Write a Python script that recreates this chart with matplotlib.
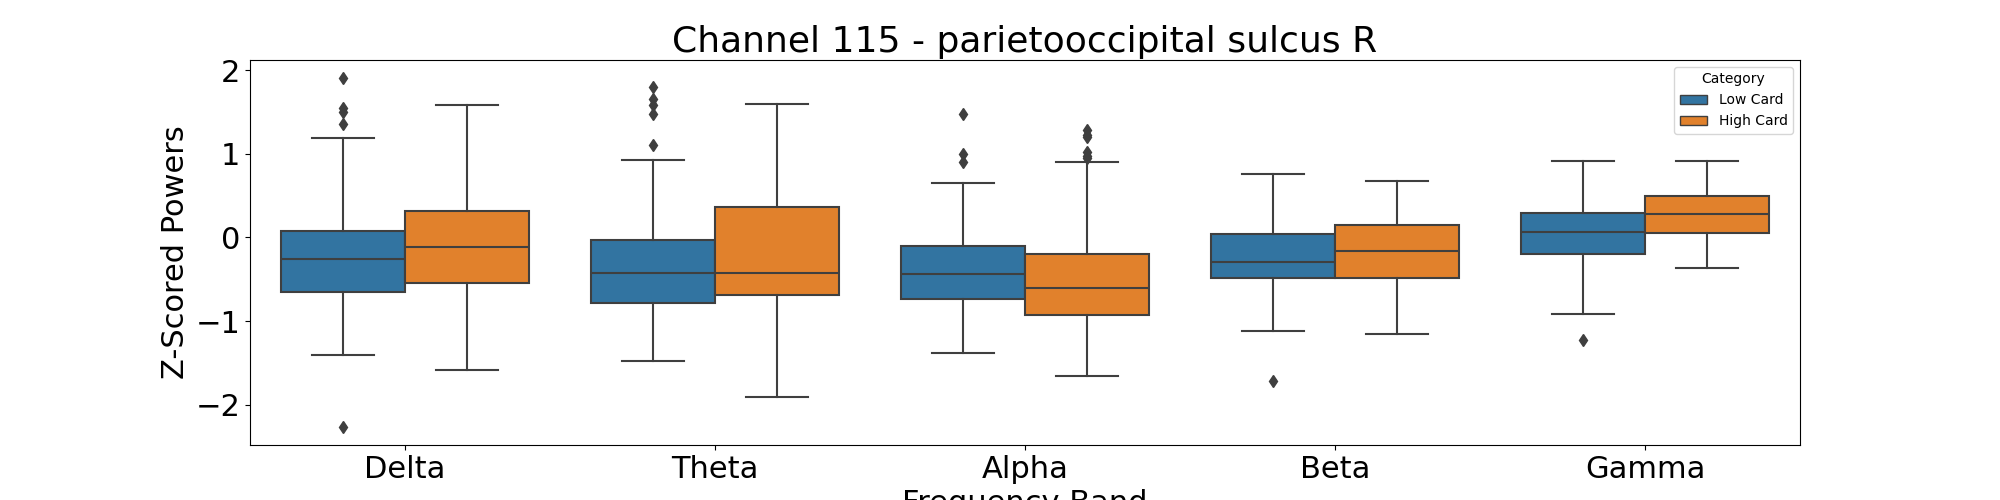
import matplotlib
matplotlib.use("Agg")
import matplotlib.pyplot as plt
from matplotlib.patches import Patch

bands = ["Delta", "Theta", "Alpha", "Beta", "Gamma"]
categories = ["Low Card", "High Card"]
colors = ["#3274a1", "#e1812c"]

# whislo, q1, med, q3, whishi per band
low_stats = [
    [-1.40, -0.65, -0.26, 0.08, 1.19],
    [-1.48, -0.78, -0.42, -0.03, 0.93],
    [-1.38, -0.73, -0.44, -0.10, 0.65],
    [-1.12, -0.49, -0.29, 0.04, 0.76],
    [-0.91, -0.20, 0.06, 0.29, 0.91],
]
high_stats = [
    [-1.58, -0.55, -0.12, 0.31, 1.58],
    [-1.91, -0.69, -0.43, 0.36, 1.60],
    [-1.66, -0.93, -0.61, -0.20, 0.90],
    [-1.15, -0.49, -0.16, 0.15, 0.67],
    [-0.37, 0.05, 0.28, 0.49, 0.91],
]
low_fliers = [
    [1.90, 1.55, 1.50, 1.35, -2.27],
    [1.80, 1.65, 1.58, 1.48, 1.10],
    [1.48, 1.00, 0.90],
    [-1.72],
    [-1.22],
]
high_fliers = [[], [], [1.28, 1.22, 1.20, 1.02, 0.97, 0.95], [], []]


def to_bxp(stats, fliers):
    out = []
    for s, f in zip(stats, fliers):
        out.append(dict(whislo=s[0], q1=s[1], med=s[2], q3=s[3], whishi=s[4], fliers=f))
    return out


fig, ax = plt.subplots(figsize=(20, 5), dpi=100)
lc = "#3f3f3f"
for i, (stats, fl) in enumerate([(low_stats, low_fliers), (high_stats, high_fliers)]):
    pos = [k - 0.2 + 0.4 * i for k in range(len(bands))]
    ax.bxp(to_bxp(stats, fl), positions=pos, widths=0.4, patch_artist=True,
           boxprops=dict(facecolor=colors[i], edgecolor=lc, linewidth=1.5),
           medianprops=dict(color=lc, linewidth=1.5),
           whiskerprops=dict(color=lc, linewidth=1.5),
           capprops=dict(color=lc, linewidth=1.5),
           flierprops=dict(marker="d", markerfacecolor=lc, markeredgecolor=lc, markersize=6))

ax.set_xlim(-0.5, len(bands) - 0.5)
ax.set_ylim(-2.48, 2.12)
ax.set_xticks(range(len(bands)))
ax.set_xticklabels(bands)
ax.set_yticks([-2, -1, 0, 1, 2])
ax.tick_params(labelsize=22)
ax.set_xlabel("Frequency Band", fontsize=22)
ax.set_ylabel("Z-Scored Powers", fontsize=22)
ax.set_title("Channel 115 - parietooccipital sulcus R", fontsize=26)
handles = [Patch(facecolor=c, edgecolor=lc, label=l) for c, l in zip(colors, categories)]
ax.legend(handles=handles, title="Category", loc="upper right", fontsize=10, title_fontsize=10)
fig.savefig("out.png")
